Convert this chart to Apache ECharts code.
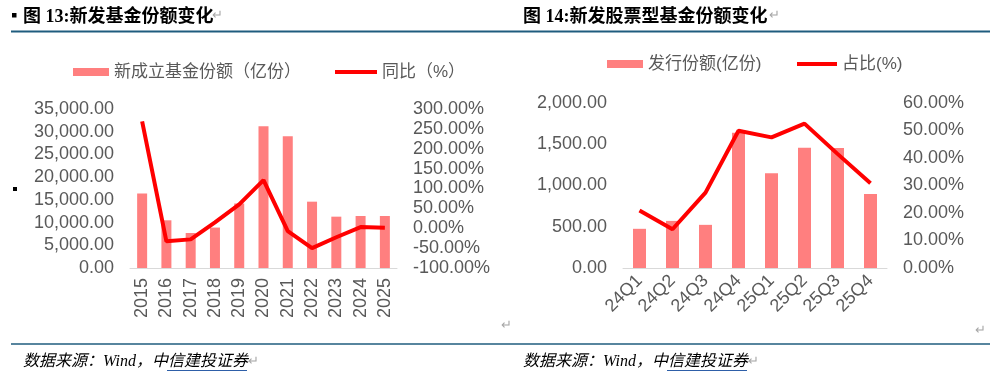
<!DOCTYPE html>
<html>
<head>
<meta charset="utf-8">
<script src="https://cdn.jsdelivr.net/npm/echarts@6/dist/echarts.min.js"></script>
<style>
  html, body { margin: 0; padding: 0; background: #fff; }
  #main { width: 996px; height: 376px; }
</style>
</head>
<body>
<div id="main"></div>
<script>
// 图13 新发基金份额
var years = ['2015', '2016', '2017', '2018', '2019', '2020', '2021', '2022', '2023', '2024', '2025'];
var newShares = [16400, 10500, 7700, 8900, 14200, 31200, 29000, 14600, 11300, 11450, 11450];
var yoyPct = [269, -33, -28, 15, 60, 121, -7, -50, -22.6, 3, 1.5];

// 图14 新发股票型基金份额
var quarters = ['24Q1', '24Q2', '24Q3', '24Q4', '25Q1', '25Q2', '25Q3', '25Q4'];
var equityShares = [475, 571, 523, 1638, 1148, 1457, 1455, 898];
var equityRatio = [20.9, 14.1, 27.4, 49.9, 47.5, 52.5, 41.5, 30.8];

var BAR = '#FF7F7F', LINE = '#FF0000', LABEL = '#595959', RULE = '#1F5C7E';
var sans = '"Liberation Sans", Arial, "Noto Sans CJK SC"';

var chart = echarts.init(document.getElementById('main'));

function numFmt(v) {
  return v.toLocaleString('en-US', { minimumFractionDigits: 2, maximumFractionDigits: 2 });
}
function pctFmt(v) {
  return v.toFixed(2) + '%';
}

function legendItem(name, left, top, w, h) {
  return {
    data: [{ name: name, icon: 'rect' }],
    left: left, top: top, padding: 0,
    itemWidth: w, itemHeight: h,
    selectedMode: false,
    textStyle: { color: LABEL, fontSize: 17, lineHeight: 18, fontFamily: sans }
  };
}

var yLabel = { color: LABEL, fontSize: 18, fontFamily: sans, margin: 16 };

var option = {
  animation: false,
  backgroundColor: '#fff',
  legend: [
    legendItem('新成立基金份额（亿份）', 73, 63, 36, 8),
    legendItem('同比（%）', 335, 63, 42, 4),
    legendItem('发行份额(亿份)', 607, 55, 36, 8),
    legendItem('占比(%)', 797, 55, 40, 4)
  ],
  grid: [
    { left: 130, top: 109, width: 267, height: 159 },
    { left: 623, top: 103, width: 264, height: 165 }
  ],
  xAxis: [
    {
      type: 'category', gridIndex: 0, data: years,
      axisLine: { lineStyle: { color: '#D9D9D9', width: 1 } },
      axisTick: { show: false },
      axisLabel: { interval: 0, rotate: 90, color: LABEL, fontSize: 18, fontFamily: sans, margin: 10 }
    },
    {
      type: 'category', gridIndex: 1, data: quarters,
      axisLine: { lineStyle: { color: '#D9D9D9', width: 1 } },
      axisTick: { show: false },
      axisLabel: { interval: 0, rotate: 45, color: LABEL, fontSize: 18, fontFamily: sans, margin: 10 }
    }
  ],
  yAxis: [
    {
      type: 'value', gridIndex: 0, min: 0, max: 35000, interval: 5000,
      axisLine: { show: false }, axisTick: { show: false }, splitLine: { show: false },
      axisLabel: Object.assign({ formatter: numFmt }, yLabel)
    },
    {
      type: 'value', gridIndex: 0, position: 'right', min: -100, max: 300, interval: 50,
      axisLine: { show: false }, axisTick: { show: false }, splitLine: { show: false },
      axisLabel: Object.assign({ formatter: pctFmt }, yLabel)
    },
    {
      type: 'value', gridIndex: 1, min: 0, max: 2000, interval: 500,
      axisLine: { show: false }, axisTick: { show: false }, splitLine: { show: false },
      axisLabel: Object.assign({ formatter: numFmt }, yLabel)
    },
    {
      type: 'value', gridIndex: 1, position: 'right', min: 0, max: 60, interval: 10,
      axisLine: { show: false }, axisTick: { show: false }, splitLine: { show: false },
      axisLabel: Object.assign({ formatter: pctFmt }, yLabel)
    }
  ],
  series: [
    {
      name: '新成立基金份额（亿份）', type: 'bar',
      xAxisIndex: 0, yAxisIndex: 0, barWidth: 10,
      itemStyle: { color: BAR }, data: newShares
    },
    {
      name: '同比（%）', type: 'line',
      xAxisIndex: 0, yAxisIndex: 1, showSymbol: false,
      itemStyle: { color: LINE }, lineStyle: { color: LINE, width: 4 },
      data: yoyPct
    },
    {
      name: '发行份额(亿份)', type: 'bar',
      xAxisIndex: 1, yAxisIndex: 2, barWidth: 13,
      itemStyle: { color: BAR }, data: equityShares
    },
    {
      name: '占比(%)', type: 'line',
      xAxisIndex: 1, yAxisIndex: 3, showSymbol: false,
      itemStyle: { color: LINE }, lineStyle: { color: LINE, width: 4 },
      data: equityRatio
    }
  ],
  graphic: [
    // 标题
    { type: 'rect', shape: { x: 12, y: 13, width: 4.5, height: 4.5 }, style: { fill: '#000' } },
    { type: 'text', x: 23, y: 17, style: { text: '图 13:新发基金份额变化', fill: '#000', fontSize: 18, fontWeight: 'bold', fontFamily: '"Liberation Serif", "Noto Sans CJK SC"', verticalAlign: 'middle' } },
    { type: 'text', x: 212, y: 15, style: { text: '↵', fill: '#A6A6A6', fontSize: 13, verticalAlign: 'middle' } },
    { type: 'text', x: 523, y: 17, style: { text: '图 14:新发股票型基金份额变化', fill: '#000', fontSize: 18, fontWeight: 'bold', fontFamily: '"Liberation Serif", "Noto Sans CJK SC"', verticalAlign: 'middle' } },
    { type: 'text', x: 769, y: 15, style: { text: '↵', fill: '#A6A6A6', fontSize: 13, verticalAlign: 'middle' } },
    { type: 'line', shape: { x1: 11, y1: 31.5, x2: 990, y2: 31.5 }, style: { stroke: RULE, lineWidth: 2 } },
    // 小方块与换行符
    { type: 'rect', shape: { x: 13, y: 187, width: 4, height: 4 }, style: { fill: '#000' } },
    { type: 'text', x: 501, y: 325, style: { text: '↵', fill: '#A6A6A6', fontSize: 13, verticalAlign: 'middle' } },
    { type: 'text', x: 975, y: 330, style: { text: '↵', fill: '#A6A6A6', fontSize: 13, verticalAlign: 'middle' } },
    // 底部来源
    { type: 'line', shape: { x1: 11, y1: 344, x2: 990, y2: 344 }, style: { stroke: RULE, lineWidth: 1.5 } },
    { type: 'text', x: 23, y: 362, style: { text: '数据来源：Wind，中信建投证券', fill: '#000', fontSize: 16, fontStyle: 'italic', fontFamily: '"Liberation Serif", "Noto Sans CJK SC"', verticalAlign: 'middle' } },
    { type: 'line', shape: { x1: 167, y1: 370.5, x2: 247, y2: 370.5 }, style: { stroke: '#2E5FA8', lineWidth: 1 } },
    { type: 'text', x: 248, y: 361, style: { text: '↵', fill: '#A6A6A6', fontSize: 13, verticalAlign: 'middle' } },
    { type: 'text', x: 523, y: 362, style: { text: '数据来源：Wind，中信建投证券', fill: '#000', fontSize: 16, fontStyle: 'italic', fontFamily: '"Liberation Serif", "Noto Sans CJK SC"', verticalAlign: 'middle' } },
    { type: 'line', shape: { x1: 667, y1: 370.5, x2: 747, y2: 370.5 }, style: { stroke: '#2E5FA8', lineWidth: 1 } },
    { type: 'text', x: 748, y: 361, style: { text: '↵', fill: '#A6A6A6', fontSize: 13, verticalAlign: 'middle' } }
  ]
};

chart.setOption(option);
</script>
</body>
</html>
